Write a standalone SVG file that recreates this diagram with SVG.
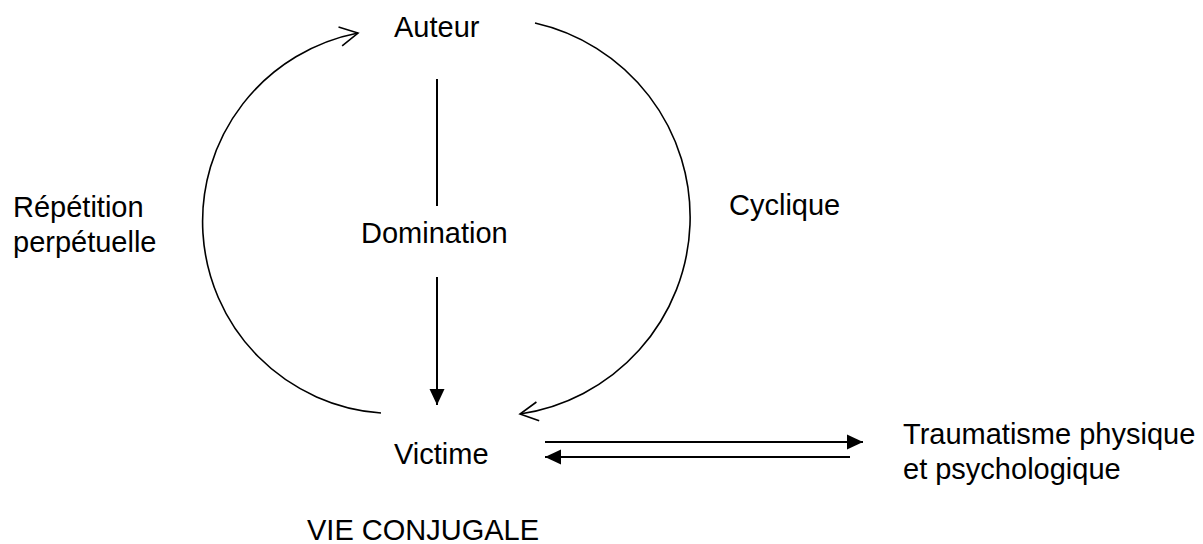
<svg xmlns="http://www.w3.org/2000/svg" width="1203" height="544" viewBox="0 0 1203 544">
<style>
text{font-family:"Liberation Sans",Arial,sans-serif;font-size:29px;fill:#000}
.arc{fill:none;stroke:#000;stroke-width:1.6}
.ln{fill:none;stroke:#000;stroke-width:2}
</style>
<defs>
<marker id="open" markerUnits="userSpaceOnUse" markerWidth="40" markerHeight="40" viewBox="-25 -20 30 40" refX="0" refY="0" orient="auto">
<path d="M -18 -9.5 L 0 0 L -18 9.5" fill="none" stroke="#000" stroke-width="1.6"/>
</marker>
<marker id="solid" markerUnits="userSpaceOnUse" markerWidth="40" markerHeight="40" viewBox="-25 -20 30 40" refX="0" refY="0" orient="auto">
<path d="M -16 -7.5 L 0 0 L -16 7.5 Z" fill="#000"/>
</marker>
</defs>
<rect width="1203" height="544" fill="#fff"/>
<g id="connectors">
<path class="arc" d="M 381 413 A 192 192 0 0 1 358 33" marker-end="url(#open)"/>
<path class="arc" d="M 535 23 A 199 199 0 0 1 520 414" marker-end="url(#open)"/>
<line class="ln" x1="437" y1="79" x2="437" y2="206"/>
<line class="ln" x1="437" y1="277" x2="437" y2="405" marker-end="url(#solid)"/>
<line class="ln" x1="545" y1="442" x2="863" y2="442" marker-end="url(#solid)"/>
<line class="ln" x1="850" y1="457" x2="545" y2="457" marker-end="url(#solid)"/>
</g>
<g id="auteur"><text x="394" y="37">Auteur</text></g>
<g id="victime"><text x="394" y="464">Victime</text></g>
<g id="domination"><text x="361" y="243">Domination</text></g>
<g id="repetition"><text x="13" y="217">Répétition</text><text x="13" y="252">perpétuelle</text></g>
<g id="cyclique"><text x="729" y="215">Cyclique</text></g>
<g id="traumatisme"><text x="903" y="444">Traumatisme physique</text><text x="903" y="479">et psychologique</text></g>
<g id="vie"><text x="307" y="540">VIE CONJUGALE</text></g>
</svg>
